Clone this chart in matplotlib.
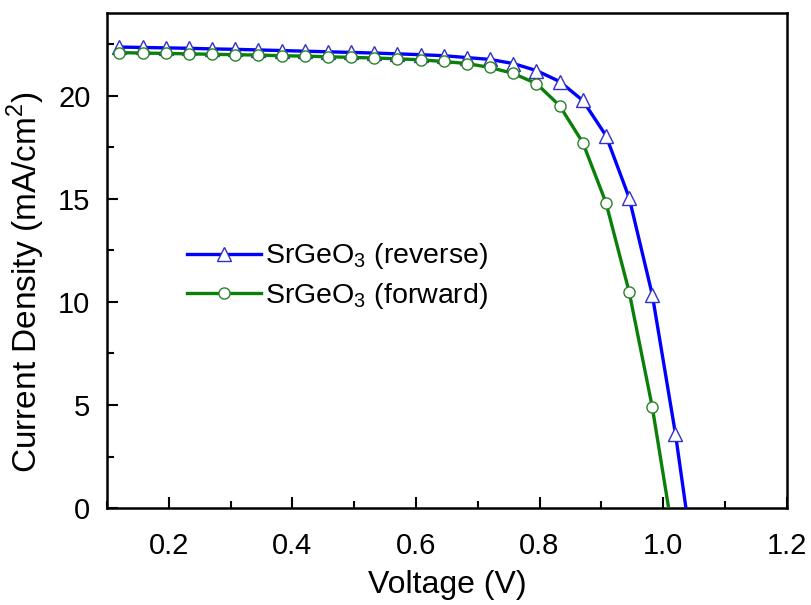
import matplotlib.pyplot as plt

# J-V data (markers every 0.0375 V, last point = Voc)
v_rev = [0.12, 0.1575, 0.195, 0.2325, 0.27, 0.3075, 0.345, 0.3825, 0.42, 0.4575,
         0.495, 0.5325, 0.57, 0.6075, 0.645, 0.6825, 0.72, 0.7575, 0.795, 0.8325,
         0.87, 0.9075, 0.945, 0.9825, 1.02, 1.037]
j_rev = [22.35, 22.33, 22.31, 22.29, 22.26, 22.24, 22.21, 22.18, 22.15, 22.12,
         22.09, 22.06, 22.02, 21.98, 21.93, 21.84, 21.75, 21.55, 21.21, 20.68,
         19.76, 18.06, 15.05, 10.34, 3.6, 0.0]

v_fwd = [0.12, 0.1575, 0.195, 0.2325, 0.27, 0.3075, 0.345, 0.3825, 0.42, 0.4575,
         0.495, 0.5325, 0.57, 0.6075, 0.645, 0.6825, 0.72, 0.7575, 0.795, 0.8325,
         0.87, 0.9075, 0.945, 0.9825, 1.009]
j_fwd = [22.08, 22.06, 22.04, 22.02, 22.0, 21.98, 21.96, 21.93, 21.91, 21.88,
         21.85, 21.82, 21.78, 21.73, 21.65, 21.55, 21.36, 21.07, 20.58, 19.51,
         17.72, 14.81, 10.49, 4.9, 0.0]

plt.rcParams['font.family'] = ['Liberation Sans', 'DejaVu Sans']
plt.rcParams['mathtext.fontset'] = 'custom'
plt.rcParams['mathtext.rm'] = 'Liberation Sans'
fig = plt.figure(figsize=(8.11, 6.05), dpi=100)
ax = fig.add_axes([0.132, 0.160, 0.838, 0.8185])

ax.plot(v_rev, j_rev, color='#0000ff', lw=2.4, marker='^', ms=9.5,
        mfc='white', mec='#3030c8', mew=1.0, markevery=list(range(len(v_rev) - 1)),
        label='SrGeO$_3$ (reverse)', zorder=3)
ax.plot(v_fwd, j_fwd, color='#0a800a', lw=2.4, marker='o', ms=8,
        mfc='white', mec='#2a802a', mew=1.0, markevery=list(range(len(v_fwd) - 1)),
        label='SrGeO$_3$ (forward)', zorder=4)

ax.set_xlim(0.1, 1.2)
ax.set_ylim(0, 24)
ax.set_xticks([0.2, 0.4, 0.6, 0.8, 1.0, 1.2])
ax.set_xticklabels(['0.2', '0.4', '0.6', '0.8', '1.0', '1.2'])
ax.set_xticks([0.1, 0.3, 0.5, 0.7, 0.9, 1.1], minor=True)
ax.set_yticks([0, 5, 10, 15, 20])
ax.set_yticks([2.5, 7.5, 12.5, 17.5, 22.5], minor=True)
ax.tick_params(which='both', direction='in', top=False, right=False, width=1.5,
               labelsize=21)
ax.tick_params(axis='x', pad=17)
ax.tick_params(axis='y', pad=12)
ax.tick_params(which='major', length=8)
ax.tick_params(which='minor', length=5)
for s in ax.spines.values():
    s.set_linewidth(1.8)

ax.set_xlabel('Voltage (V)', fontsize=23, labelpad=7)
ax.set_ylabel('Current Density (mA/cm$^2$)', fontsize=24)
ax.yaxis.set_label_coords(-0.088, 0.457)

ax.legend(loc='center left', bbox_to_anchor=(0.08, 0.468), frameon=False,
          fontsize=20.5, handlelength=2.6, handletextpad=0.15, labelspacing=0.35)

fig.savefig('out.png', dpi=100)
